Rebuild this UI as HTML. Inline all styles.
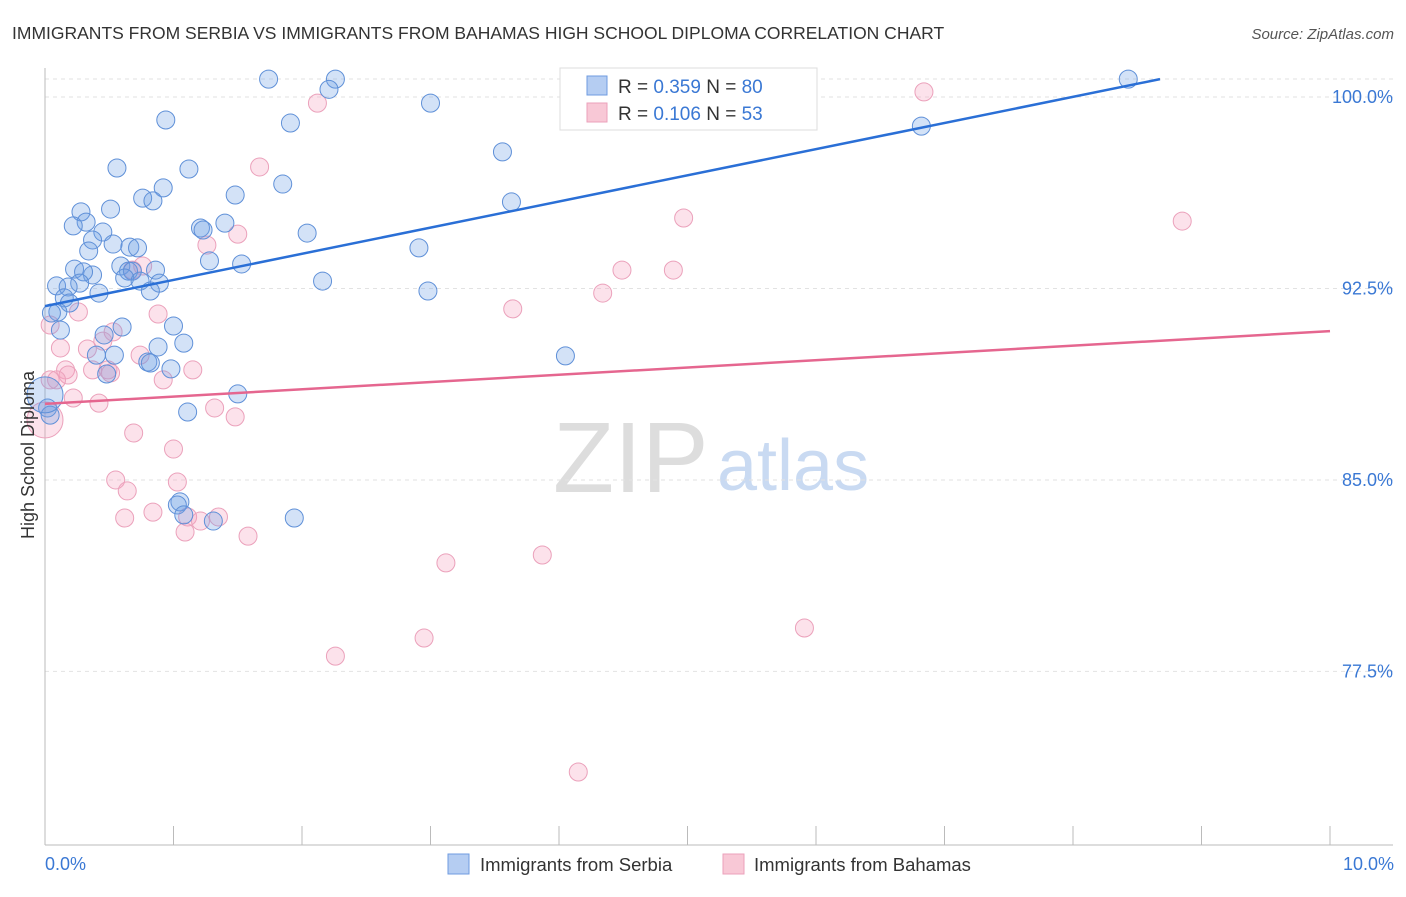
<!DOCTYPE html>
<html><head><meta charset="utf-8"><style>
body{margin:0;background:#fff;font-family:"Liberation Sans",sans-serif}
svg text{font-family:"Liberation Sans",sans-serif}
</style></head><body>
<svg id="c" width="1406" height="892" xmlns="http://www.w3.org/2000/svg">
<text x="12" y="39" font-size="17.5" fill="#333">IMMIGRANTS FROM SERBIA VS IMMIGRANTS FROM BAHAMAS HIGH SCHOOL DIPLOMA CORRELATION CHART</text>
<text x="1394" y="39" font-size="15" fill="#555" font-style="italic" text-anchor="end">Source: ZipAtlas.com</text>
<g>
<text x="553" y="492" font-size="100" fill="#ddd" font-family="Liberation Serif">ZIP</text>
<text x="717" y="490" font-size="72" fill="#c9daf2">atlas</text>
</g>
<g id="grid"></g><g id="axes"></g><g id="pts"></g><g id="lines"></g>
<g>
<rect x="560" y="68" width="257" height="62" fill="#fff" stroke="#ddd"/>
<rect x="587" y="76" width="20" height="19" fill="#b5cdf2" stroke="#6f9be0"/>
<rect x="587" y="103" width="20" height="19" fill="#f8c8d6" stroke="#eba1bb"/>
<text x="618" y="93" font-size="19" fill="#333">R = <tspan fill="#3a78d4">0.359</tspan>    N = <tspan fill="#3a78d4">80</tspan></text>
<text x="618" y="120" font-size="19" fill="#333">R = <tspan fill="#3a78d4">0.106</tspan>    N = <tspan fill="#3a78d4">53</tspan></text>
</g>
<text transform="translate(34,455) rotate(-90)" font-size="18" fill="#333" text-anchor="middle">High School Diploma</text>
<text x="45" y="870" font-size="18" fill="#3a78d4">0.0%</text>
<text x="1394" y="870" font-size="18" fill="#3a78d4" text-anchor="end">10.0%</text>
<g>
<rect x="448" y="854" width="21" height="20" fill="#b5cdf2" stroke="#6f9be0"/>
<text x="480" y="871" font-size="18.5" fill="#333">Immigrants from Serbia</text>
<rect x="723" y="854" width="21" height="20" fill="#f8c8d6" stroke="#eba1bb"/>
<text x="754" y="871" font-size="18.5" fill="#333">Immigrants from Bahamas</text>
</g>
</svg>
<script>
const yTicks=[100,92.5,85,77.5];
const yTickLabels=["100.0%","92.5%","85.0%","77.5%"];
const serbiaX=[1.74,2.26,2.21,8.43,3.00,0.94,1.91,6.82,3.56,0.56,1.12,1.85,0.92,1.48,0.76,0.84,3.63,0.51,0.28,0.32,0.22,1.40,1.21,1.23,0.45,2.04,0.37,0.53,0.66,0.72,2.91,0.34,1.28,1.53,0.59,0.23,0.37,0.86,0.65,0.68,0.30,0.62,0.74,0.89,2.16,0.27,0.09,0.18,0.82,0.42,2.98,0.15,0.19,0.10,0.05,0.60,1.00,0.12,0.46,0.88,1.08,0.40,0.54,4.05,0.80,0.82,0.98,0.48,1.50,0.02,0.04,1.11,1.05,1.03,1.08,1.31,1.94,0.0];
const serbiaY=[100.7,100.7,100.3,100.7,99.76,99.1,98.98,98.86,97.85,97.22,97.18,96.59,96.44,96.16,96.04,95.93,95.89,95.61,95.5,95.1,94.95,95.06,94.87,94.79,94.71,94.67,94.4,94.24,94.12,94.09,94.09,93.97,93.58,93.46,93.38,93.26,93.03,93.22,93.18,93.18,93.15,92.91,92.79,92.71,92.79,92.71,92.6,92.56,92.4,92.32,92.4,92.13,91.93,91.58,91.54,90.99,91.03,90.87,90.68,90.21,90.36,89.89,89.89,89.86,89.62,89.58,89.35,89.15,88.37,87.82,87.54,87.66,84.14,84.02,83.63,83.39,83.51,88.33];
const bahamasX=[2.12,6.84,1.67,4.97,8.85,1.50,1.26,0.76,0.68,4.49,4.89,4.34,3.64,0.88,0.26,0.53,0.04,0.12,0.33,0.45,0.74,0.16,0.18,0.37,0.49,0.51,1.15,0.92,0.09,0.22,0.42,1.32,1.48,0.0,0.69,1.00,0.55,1.03,0.64,0.84,0.62,1.11,1.35,1.21,1.09,1.58,3.12,3.87,2.95,2.26,5.91,4.15,0.04];
const bahamasY=[99.76,100.2,97.26,95.26,95.14,94.63,94.2,93.38,93.22,93.22,93.22,92.32,91.7,91.5,91.58,90.8,91.07,90.17,90.13,90.44,89.89,89.31,89.11,89.31,89.31,89.19,89.31,88.92,88.92,88.21,88.01,87.82,87.47,87.35,86.84,86.21,85.0,84.92,84.57,83.74,83.51,83.55,83.55,83.39,82.96,82.8,81.75,82.06,78.81,78.1,79.2,73.56,88.92];
const serbiaTrend=[[0,91.81],[8.677,100.7]];
const bahamasTrend=[[0,87.98],[10,90.83]];
const NS="http://www.w3.org/2000/svg";
const X=v=>45+v*128.5, Y=v=>97+(100-v)*25.53;
function mk(t,a,p){const e=document.createElementNS(NS,t);for(const k in a)e.setAttribute(k,a[k]);p.appendChild(e);return e;}
const grid=document.getElementById('grid'),axes=document.getElementById('axes'),pts=document.getElementById('pts'),lines=document.getElementById('lines');
let g0=mk('line',{x1:45,x2:1393,y1:79,y2:79,stroke:'#e2e2e2','stroke-dasharray':'4,4'},grid);


yTicks.forEach((t,i)=>{
 const l=mk('line',{x1:45,x2:1393,y1:Y(t),y2:Y(t),stroke:'#e2e2e2','stroke-dasharray':'4,4'},grid);
 
 
 const tx=mk('text',{x:1393,y:Y(t)+6,'font-size':18,fill:'#3a78d4','text-anchor':'end'},grid);
 tx.textContent=yTickLabels[i];
 
 
});
let ax=mk('line',{x1:45,x2:45,y1:68,y2:845,stroke:'#bbb'},axes);


let bx=mk('line',{x1:45,x2:1393,y1:845,y2:845,stroke:'#bbb'},axes);


for(let i=1;i<=10;i++){const t=mk('line',{x1:X(i),x2:X(i),y1:826,y2:845,stroke:'#bbb'},axes);
 
 }
function dots(xs,ys,fill,stroke,name){xs.forEach((x,i)=>{
 const big=(x<0.01);
 const c=mk('circle',{cx:X(x),cy:Y(ys[i]),r:big?18:9,fill:fill,stroke:stroke,'stroke-width':1},pts);
 
 
});}
dots(bahamasX,bahamasY,'rgba(244,160,188,0.3)','#eba1bb','point-bahamas');
dots(serbiaX,serbiaY,'rgba(110,160,230,0.3)','#5f90d8','point-serbia');
const l1=mk('line',{x1:X(serbiaTrend[0][0]),y1:Y(serbiaTrend[0][1]),x2:X(serbiaTrend[1][0]),y2:Y(serbiaTrend[1][1]),stroke:'#2a6fd6','stroke-width':2.5},lines);


const l2=mk('line',{x1:X(bahamasTrend[0][0]),y1:Y(bahamasTrend[0][1]),x2:X(bahamasTrend[1][0]),y2:Y(bahamasTrend[1][1]),stroke:'#e5668f','stroke-width':2.5},lines);


</script>
</body></html>
